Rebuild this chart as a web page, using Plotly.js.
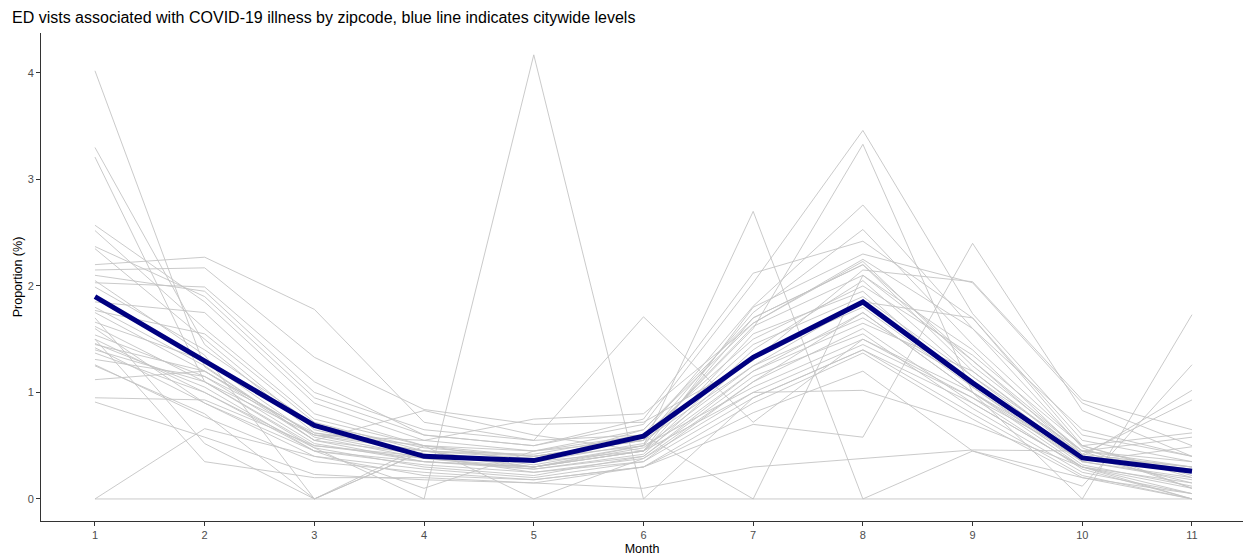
<!DOCTYPE html>
<html>
<head>
<meta charset="utf-8">
<script src="https://cdn.plot.ly/plotly-3.0.1.min.js"></script>
<style>html,body{margin:0;padding:0;background:#fff;}#chart{width:1243px;height:557px;}</style>
</head>
<body>
<div id="chart"></div>
<script>
const months = [1, 2, 3, 4, 5, 6, 7, 8, 9, 10, 11];
const monthTicks = ["1", "2", "3", "4", "5", "6", "7", "8", "9", "10", "11"];
const citywide = [1.90, 1.30, 0.69, 0.40, 0.36, 0.59, 1.33, 1.85, 1.09, 0.385, 0.26];

const z01 = [4.02, 1.24, 0.55, 0.35, 0.30, 0.45, 1.55, 1.95, 1.05, 0.35, 0.20];
const z02 = [3.30, 1.45, 0.62, 0.45, 0.32, 0.50, 1.70, 2.20, 1.30, 0.40, 0.15];
const z03 = [3.21, 1.10, 0.50, 0.38, 0.28, 0.40, 1.20, 1.75, 1.00, 0.30, 0.05];
const z04 = [2.57, 1.85, 0.90, 0.55, 0.45, 0.65, 1.65, 2.23, 1.25, 0.45, 0.30];
const z05 = [2.52, 1.60, 0.75, 0.50, 0.40, 0.55, 1.75, 2.53, 1.45, 0.50, 0.20];
const z06 = [2.37, 1.90, 0.95, 0.60, 0.50, 0.75, 2.12, 2.42, 1.70, 0.55, 0.35];
const z07 = [2.35, 1.50, 0.65, 0.42, 0.30, 0.45, 1.40, 2.05, 1.15, 0.38, 0.25];
const z08 = [2.20, 2.27, 1.78, 0.72, 0.55, 0.60, 1.81, 2.76, 1.60, 0.48, 0.10];
const z09 = [2.15, 2.17, 1.33, 0.84, 0.70, 0.72, 1.30, 2.15, 2.04, 0.93, 0.65];
const z10 = [2.03, 1.99, 1.10, 0.60, 0.50, 0.70, 2.03, 3.46, 1.74, 0.60, 0.40];
const z11 = [1.99, 1.40, 0.70, 0.48, 0.40, 0.55, 1.60, 3.33, 1.00, 0.40, 0.28];
const z12 = [1.85, 1.75, 0.80, 0.50, 0.35, 0.65, 1.70, 2.20, 1.20, 0.42, 0.30];
const z13 = [1.77, 1.55, 0.72, 0.45, 0.42, 0.60, 1.50, 2.00, 1.35, 0.50, 0.22];
const z14 = [1.75, 1.20, 0.60, 0.40, 0.25, 0.35, 1.10, 1.60, 0.90, 0.30, 0.10];
const z15 = [1.66, 1.30, 0.58, 0.38, 0.30, 0.48, 1.25, 1.70, 1.10, 0.35, 0.18];
const z16 = [1.62, 1.10, 0.48, 0.30, 0.22, 0.40, 1.15, 1.55, 0.85, 0.25, 0.05];
const z17 = [1.54, 1.15, 0.52, 0.35, 0.28, 0.42, 1.35, 1.80, 1.05, 0.32, 0.12];
const z18 = [1.46, 1.05, 0.45, 0.32, 0.25, 0.38, 1.00, 1.45, 0.95, 0.28, 0.00];
const z19 = [1.45, 1.20, 0.55, 0.42, 0.35, 0.52, 1.45, 1.90, 1.15, 0.45, 0.58];
const z20 = [1.42, 0.90, 0.40, 0.28, 0.20, 0.35, 0.95, 1.40, 0.80, 0.22, 0.00];
const z21 = [1.37, 1.00, 0.45, 0.35, 0.30, 0.45, 1.20, 1.65, 1.20, 0.40, 1.02];
const z22 = [1.31, 1.15, 0.62, 0.50, 0.45, 0.55, 1.62, 2.10, 1.40, 0.42, 0.93];
const z23 = [1.26, 0.77, 0.35, 0.25, 0.18, 0.30, 0.90, 1.37, 0.75, 0.20, 0.00];
const z24 = [1.12, 1.20, 0.60, 0.45, 0.38, 0.50, 1.05, 1.50, 1.00, 0.35, 0.49];
const z25 = [0.95, 0.93, 0.50, 0.40, 0.35, 0.45, 1.00, 1.02, 0.70, 0.30, 0.00];
const z26 = [0.91, 0.58, 0.23, 0.18, 0.15, 0.30, 0.81, 1.20, 0.45, 0.12, 1.26];
const z27 = [0.00, 0.66, 0.40, 0.22, 0.18, 0.30, 0.70, 0.58, 2.40, 0.83, 0.40];
const z28 = [0.00, 0.00, 0.00, 0.00, 0.00, 0.00, 0.00, 0.00, 0.00, 0.00, 0.00];
const z29 = [1.50, 1.00, 0.48, 0.00, 4.17, 0.00, 0.95, 1.40, 0.90, 0.30, 0.15];
const z30 = [2.05, 1.35, 0.00, 0.45, 0.30, 0.50, 2.70, 0.00, 0.45, 0.20, 0.05];
const z31 = [1.70, 0.52, 0.00, 0.50, 0.00, 0.38, 1.10, 1.75, 1.00, 0.00, 1.73];
const z32 = [1.60, 0.90, 0.45, 0.10, 0.45, 0.60, 0.00, 2.10, 1.30, 0.45, 0.10];
const z33 = [2.10, 1.95, 1.00, 0.65, 0.55, 1.71, 0.72, 1.50, 0.95, 0.40, 0.30];
const z34 = [1.80, 1.25, 0.55, 0.83, 0.60, 0.45, 1.80, 2.30, 2.03, 0.90, 0.50];
const z35 = [1.40, 1.10, 0.60, 0.55, 0.75, 0.80, 1.65, 2.25, 1.60, 0.65, 0.40];
const z36 = [1.50, 0.35, 0.20, 0.20, 0.15, 0.10, 0.30, 0.38, 0.46, 0.45, 0.35];
const z37 = [1.25, 0.80, 0.00, 0.45, 0.40, 0.55, 1.25, 1.85, 1.70, 0.50, 0.62];

const zipSeries = [z01, z02, z03, z04, z05, z06, z07, z08, z09, z10, z11, z12, z13,
  z14, z15, z16, z17, z18, z19, z20, z21, z22, z23, z24, z25, z26, z27, z28, z29,
  z30, z31, z32, z33, z34, z35, z36, z37];

const traces = zipSeries.map(v => ({
  x: months, y: v, type: 'scatter', mode: 'lines',
  line: {color: '#C4C4C4', width: 0.9}, hoverinfo: 'skip', showlegend: false
}));
traces.push({
  x: months, y: citywide, type: 'scatter', mode: 'lines',
  line: {color: '#000080', width: 5}, showlegend: false
});

const layout = {
  width: 1243, height: 557,
  paper_bgcolor: '#FFFFFF', plot_bgcolor: '#FFFFFF',
  margin: {l: 41, r: 0, t: 33, b: 36, pad: 0},
  font: {family: 'Liberation Sans, Arial, sans-serif', color: '#000'},
  title: {
    text: 'ED vists associated with COVID-19 illness by zipcode, blue line indicates citywide levels',
    font: {size: 16, color: '#000'},
    xref: 'container', yref: 'container', x: 12/1243, xanchor: 'left',
    y: 1 - 17/557, yanchor: 'middle'
  },
  xaxis: {
    range: [0.508, 11.465], tickmode: 'array', tickvals: months, ticktext: monthTicks,
    showgrid: false, zeroline: false, showline: true, linecolor: '#333333', linewidth: 1,
    ticks: 'outside', ticklen: 4, tickcolor: '#333333', tickwidth: 1,
    tickfont: {size: 11, color: '#4D4D4D'},
    title: {text: 'Month', font: {size: 12.5, color: '#000'}, standoff: 4}
  },
  yaxis: {
    range: [-0.207, 4.375], tickvals: [0, 1, 2, 3, 4],
    showgrid: false, zeroline: false, showline: true, linecolor: '#333333', linewidth: 1,
    ticks: 'outside', ticklen: 4, tickcolor: '#333333', tickwidth: 1,
    tickfont: {size: 11, color: '#4D4D4D'},
    title: {text: 'Proportion (%)', font: {size: 12.5, color: '#000'}, standoff: 2}
  }
};

Plotly.newPlot('chart', traces, layout, {displayModeBar: false, staticPlot: true});
</script>
</body>
</html>
